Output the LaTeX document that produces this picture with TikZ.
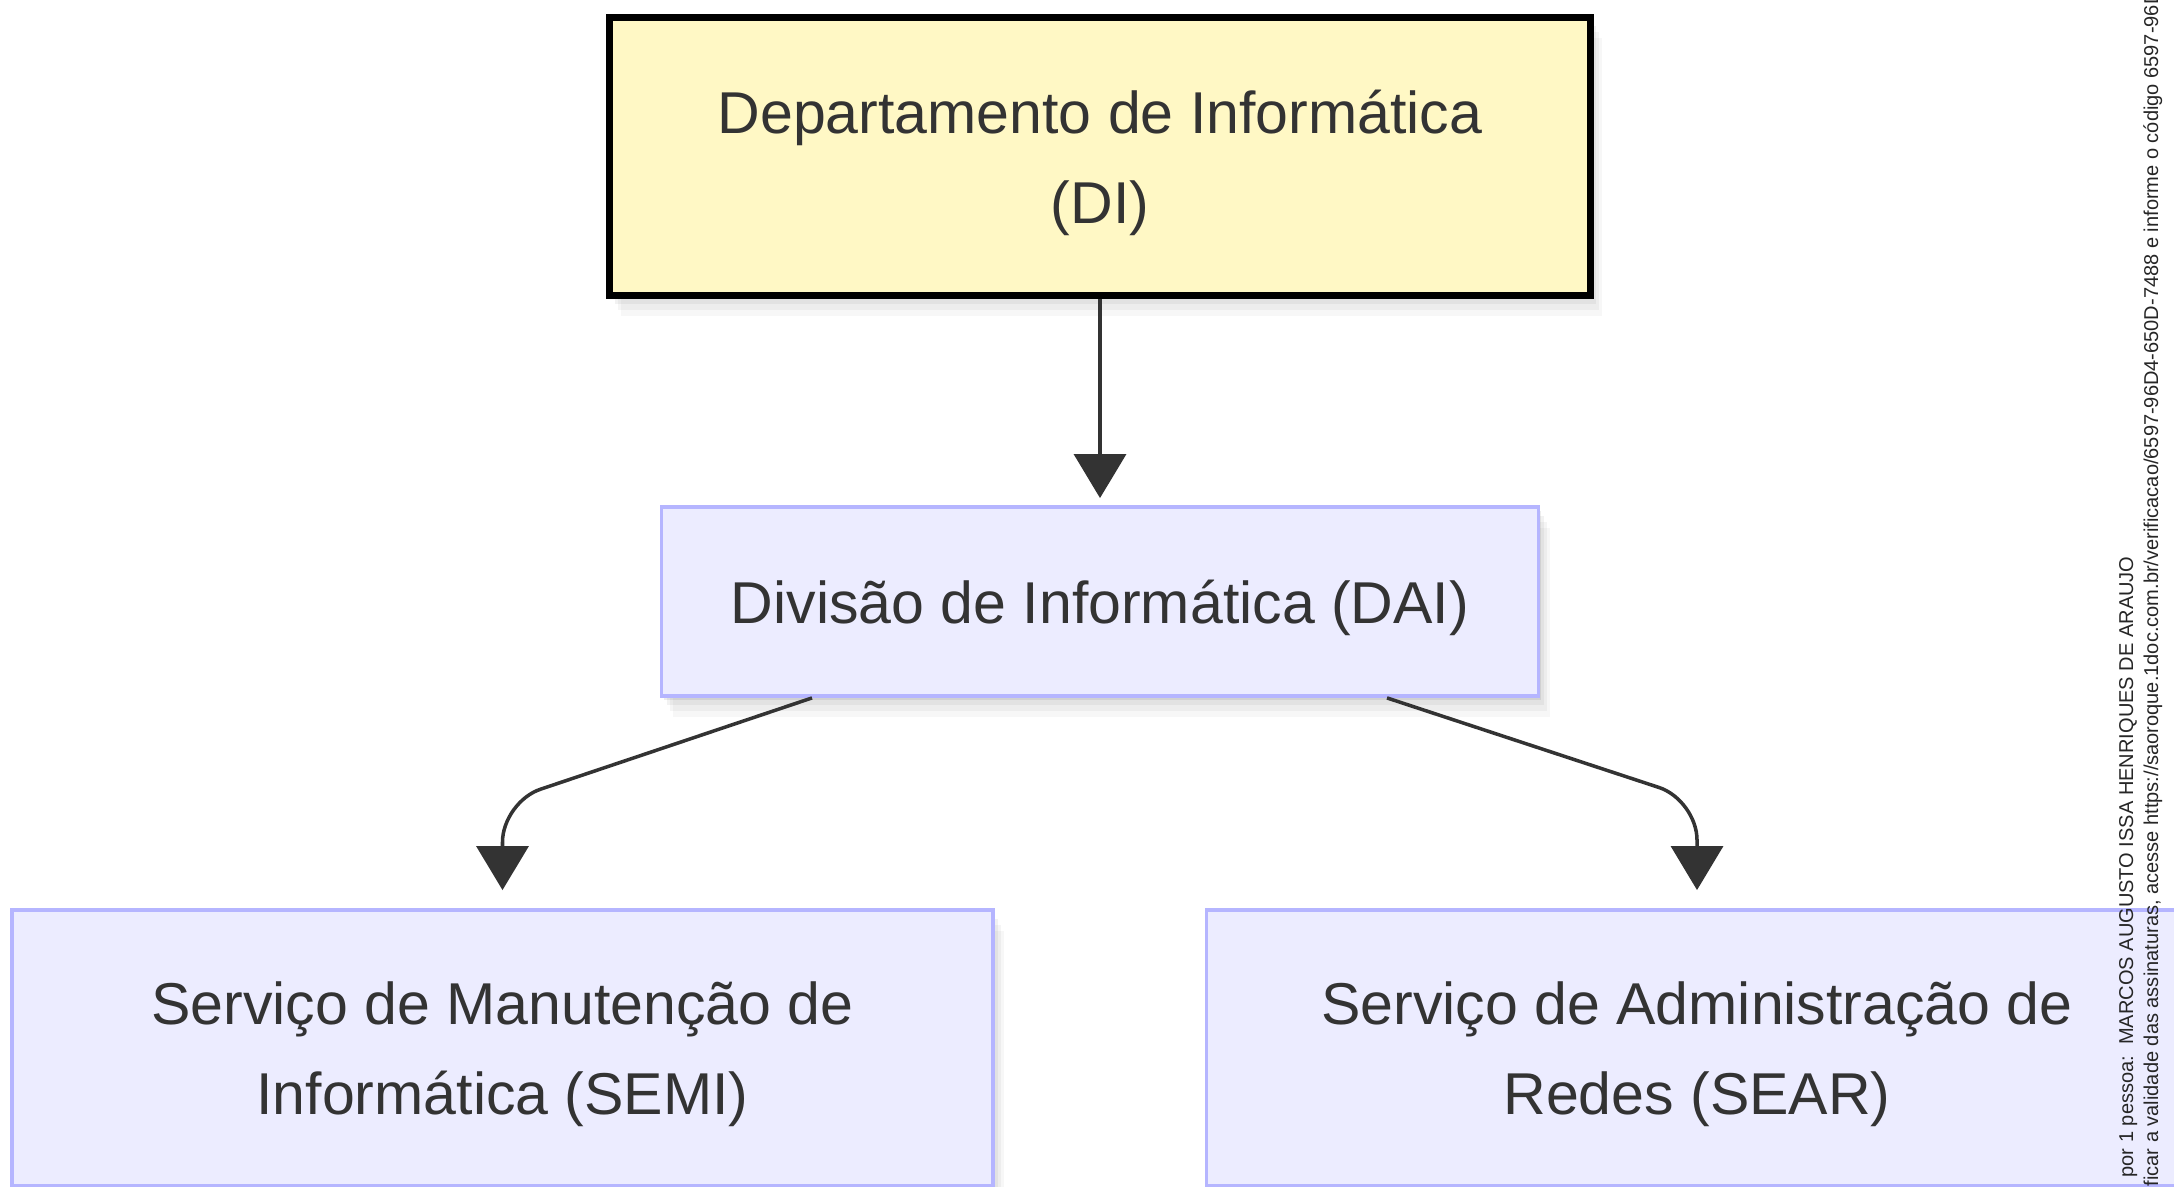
\documentclass[tikz,border=0pt]{standalone}
\usepackage{fontspec}
\setmainfont{Liberation Sans}
\usetikzlibrary{arrows.meta,calc,shadows}
\definecolor{deptfill}{HTML}{FFF8C5}
\definecolor{divfill}{HTML}{ECECFF}
\definecolor{divline}{HTML}{B5B5FF}
\definecolor{inkgray}{HTML}{333333}

\begin{document}
\begin{tikzpicture}[
    softshadow/.style={
      drop shadow={shadow xshift=0.02cm,shadow yshift=-0.04cm,opacity=0.07,fill=black},
      drop shadow={shadow xshift=0.05cm,shadow yshift=-0.09cm,opacity=0.05,fill=black},
      drop shadow={shadow xshift=0.08cm,shadow yshift=-0.15cm,opacity=0.04,fill=black},
      drop shadow={shadow xshift=0.11cm,shadow yshift=-0.21cm,opacity=0.03,fill=black}},
    boxtext/.style={font=\fontsize{16.8}{25.6}\selectfont, text=inkgray, align=center, inner sep=0pt},
    dept/.style={boxtext, draw=black, line width=2pt, fill=deptfill, minimum width=9.81cm, minimum height=2.78cm, softshadow},
    unit/.style={boxtext, draw=divline, line width=1.1pt, fill=divfill, minimum width=8.77cm, minimum height=1.89cm, softshadow},
    service/.style={unit, minimum width=9.81cm, minimum height=2.76cm},
    link/.style={draw=inkgray, line width=1pt, rounded corners=0.4cm, -{Triangle[width=0.52cm,length=0.44cm]}},
    stamp/.style={font=\fontsize{5.7}{6.5}\selectfont, text=black!85, rotate=90, anchor=base west, inner sep=0pt}
  ]

    \useasboundingbox (0,0) rectangle (21.74,-11.87);

    % Draw the department and its division
    \node[dept] (di) at (11.00,-1.565) {\rule{0pt}{0.56cm}Departamento de Informática\\(DI)};
    \node[unit] (dai) at (11.00,-6.015) {\rule{0pt}{0.56cm}Divisão de Informática (DAI)};

    % Draw the two services
    \node[service] (semi) at (5.025,-10.48) {\rule{0pt}{0.56cm}Serviço de Manutenção de\\Informática (SEMI)};
    \node[service] (sear) at (16.97,-10.48) {\rule{0pt}{0.56cm}Serviço de Administração de\\Redes (SEAR)};

    % Draw the links
    \draw[link, shorten >=0.07cm] (di.south) -- (dai.north);

    \coordinate (bendL) at (5.025,-8.02);
    \coordinate (bendR) at (16.97,-8.00);
    \draw[link, shorten >=0.18cm] ($(dai.south)+(-2.88,0)$) -- (bendL) -- (semi.north);
    \draw[link, shorten >=0.18cm] ($(dai.south)+(2.87,0)$) -- (bendR) -- (sear.north);

    % Draw the signature stamp on the margin
    \node[stamp] (sign) at (21.33,-11.78) {por 1 pessoa:\ \ MARCOS AUGUSTO ISSA HENRIQUES DE ARAUJO};
    \node[stamp] (check) at (21.58,-11.87) {ficar a validade das assinaturas, acesse https://saoroque.1doc.com.br/verificacao/6597-96D4-650D-7488 e informe o código 6597-96D};

\end{tikzpicture}
\end{document}
